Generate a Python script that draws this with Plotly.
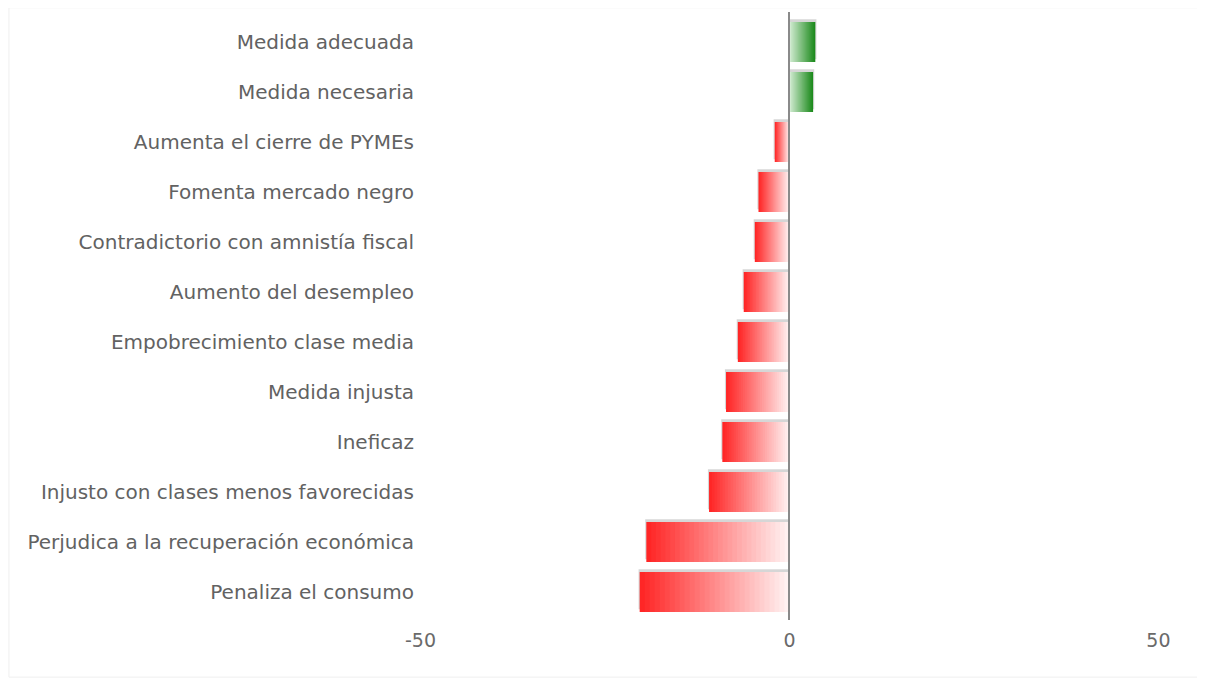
import plotly.graph_objects as go

# Opinion labels (top to bottom) and net score
categories = [
    "Medida adecuada",
    "Medida necesaria",
    "Aumenta el cierre de PYMEs",
    "Fomenta mercado negro",
    "Contradictorio con amnistía fiscal",
    "Aumento del desempleo",
    "Empobrecimiento clase media",
    "Medida injusta",
    "Ineficaz",
    "Injusto con clases menos favorecidas",
    "Perjudica a la recuperación económica",
    "Penaliza el consumo",
]
values = [3.5, 3.2, -2.0, -4.2, -4.7, -6.2, -7.0, -8.6, -9.1, -10.9, -19.4, -20.3]
tick_values = [-50, 0, 50]
tick_labels = ["-50", "0", "50"]

RED_DARK, RED_LIGHT = (255, 38, 38), (255, 248, 248)
GREEN_DARK, GREEN_LIGHT = (28, 138, 28), (215, 238, 215)
STEPS = 30


def mix(light, dark, t):
    r, g, b = (round(l + (d - l) * t) for l, d in zip(light, dark))
    return f"rgb({r},{g},{b})"


fig = go.Figure()

# soft shadow behind each bar (slightly up and a touch longer)
fig.add_trace(go.Bar(
    y=categories,
    x=[v + (0.15 if v > 0 else -0.15) for v in values],
    orientation="h",
    width=0.8,
    offset=-0.455,
    marker=dict(color="rgba(120,120,120,0.3)", line=dict(width=0)),
    hoverinfo="skip",
    showlegend=False,
))

# gradient: nested bars, longest (darkest) first, shorter/lighter on top
for k in range(STEPS):
    frac = 1 - k / STEPS
    colors = [
        mix(GREEN_LIGHT, GREEN_DARK, frac) if v > 0 else mix(RED_LIGHT, RED_DARK, frac)
        for v in values
    ]
    fig.add_trace(go.Bar(
        y=categories,
        x=[v * frac for v in values],
        orientation="h",
        width=0.8,
        marker=dict(color=colors, line=dict(width=0)),
        hovertext=[f"{c}: {v}" for c, v in zip(categories, values)],
        hoverinfo="text" if k == 0 else "skip",
        showlegend=False,
    ))

n = len(categories)
# page body adds an 8px margin, so the figure is a bit smaller than the window
fig.update_layout(
    barmode="overlay",
    width=1197,
    height=672,
    margin=dict(l=412, r=5, t=4, b=60),
    paper_bgcolor="white",
    plot_bgcolor="white",
    font=dict(family="DejaVu Sans", size=20, color="#626262"),
)
fig.update_xaxes(
    range=[-50.07, 55.63],
    tickvals=tick_values,
    ticktext=tick_labels,
    showgrid=False,
    zeroline=True,
    zerolinecolor="#8a8a8a",
    zerolinewidth=2,
    zerolinelayer="above traces",
    showline=False,
    ticks="outside",
    ticklen=3,
    tickcolor="white",
    tickfont=dict(size=19, color="#6a6a6a"),
    fixedrange=True,
)
fig.update_yaxes(
    type="category",
    categoryorder="array",
    categoryarray=categories,
    range=[n - 0.44, -0.6],
    showgrid=False,
    zeroline=False,
    showline=False,
    ticks="outside",
    ticklen=1,
    tickcolor="white",
    tickfont=dict(size=20, color="#626262"),
    fixedrange=True,
)
# faint outer frame of the widget
fig.add_shape(
    type="rect", xref="paper", yref="paper",
    x0=-0.527, x1=1.004, y0=-0.094, y1=1.007,
    line=dict(color="#efefef", width=1),
)

fig.write_html("out.html")
